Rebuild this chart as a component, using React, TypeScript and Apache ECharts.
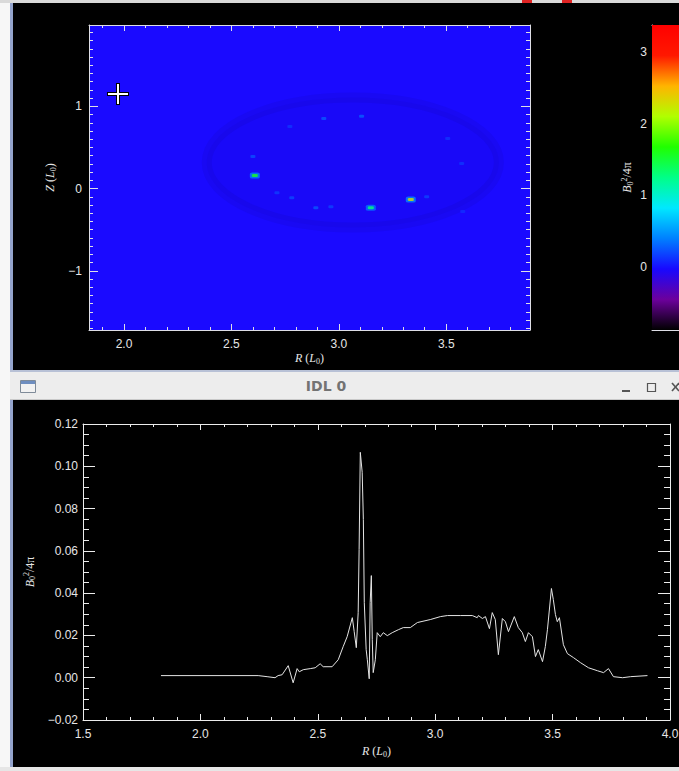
import React, { useEffect, useRef } from 'react';
import * as echarts from 'echarts';

// ---------- bottom panel: radial profile of B0^2/4pi ----------
const profileR = [1.832, 2.246, 2.284, 2.318, 2.331, 2.348, 2.374, 2.395, 2.412, 2.421,
  2.438, 2.468, 2.489, 2.510, 2.523, 2.561, 2.587, 2.608, 2.625, 2.647,
  2.655, 2.664, 2.672, 2.676, 2.681, 2.689, 2.694, 2.698, 2.706, 2.711,
  2.719, 2.723, 2.728, 2.732, 2.736, 2.745, 2.753, 2.766, 2.779, 2.796,
  2.817, 2.843, 2.864, 2.894, 2.924, 2.979, 3.022, 3.052, 3.107, 3.158,
  3.179, 3.184, 3.201, 3.214, 3.231, 3.243, 3.256, 3.269, 3.286, 3.299,
  3.312, 3.337, 3.354, 3.371, 3.384, 3.397, 3.414, 3.427, 3.439, 3.457,
  3.469, 3.478, 3.495, 3.503, 3.512, 3.520, 3.529, 3.546, 3.563, 3.589,
  3.619, 3.653, 3.691, 3.717, 3.738, 3.759, 3.798, 3.832, 3.904];
const profileV = [0.0010, 0.0010, 0.0005, 0.0000, 0.0010, 0.0014, 0.0057, -0.0024, 0.0043, 0.0028,
  0.0038, 0.0043, 0.0047, 0.0066, 0.0052, 0.0052, 0.0085, 0.0147, 0.0194, 0.0284,
  0.0218, 0.0142, 0.0308, 0.0607, 0.1066, 0.0972, 0.0749, 0.0355, 0.0133, 0.0085,
  -0.0005, 0.0355, 0.0483, 0.0180, 0.0024, 0.0085, 0.0213, 0.0194, 0.0213, 0.0199,
  0.0213, 0.0227, 0.0237, 0.0237, 0.0261, 0.0275, 0.0289, 0.0294, 0.0294, 0.0294,
  0.0284, 0.0294, 0.0280, 0.0289, 0.0232, 0.0308, 0.0275, 0.0109, 0.0280, 0.0265,
  0.0218, 0.0289, 0.0237, 0.0213, 0.0171, 0.0213, 0.0194, 0.0100, 0.0133, 0.0076,
  0.0147, 0.0227, 0.0422, 0.0370, 0.0299, 0.0265, 0.0284, 0.0156, 0.0114, 0.0095,
  0.0071, 0.0047, 0.0033, 0.0024, 0.0043, 0.0005, 0.0000, 0.0005, 0.0010];

const profileRRange = [1.5, 4.0];
const profileVRange = [-0.02, 0.12];

// ---------- top panel: map in (R, Z) ----------
const mapRRange = [1.837, 3.89];
const mapZRange = [-1.72, 1.99];
const mapBackgroundValue = 0;

// bright spots (core value and surrounding halo value)
const spotR = [2.609, 3.149, 3.335];
const spotZ = [0.159, -0.232, -0.134];
const spotCore = [1.6, 1.3, 2.3];
const spotHalo = [0.45, 0.4, 0.5];

// faint small dots
const dotR = [3.106, 2.930, 2.772, 2.600, 2.781, 2.712, 2.893, 2.963, 3.409, 3.507, 3.572, 3.577];
const dotZ = [0.88, 0.854, 0.756, 0.39, -0.11, -0.05, -0.232, -0.22, -0.10, 0.61, 0.305, -0.28];
const dotV = [0.3, 0.28, 0.15, 0.25, 0.22, 0.18, 0.28, 0.2, 0.2, 0.15, 0.15, 0.12];

// faint elliptical structure: centre R, Z and semi-axes
const ringCenter = [3.065, 0.317];
const ringRadii = [0.68, 0.79];

// colour bar
const cbRange = [-0.88, 3.38];
const colormap = ['#000000', '#6c009c', '#1808ff', '#0080ff', '#00e8ff', '#00ff88',
  '#20ff00', '#b0ff00', '#ffb400', '#ff1800', '#ff0000'];

const AX = '#dedee6';
const LBL = '#e6e6e6';
const SANS = 'Liberation Sans';
const SERIF = 'Liberation Serif';

const rich = {
  i: { fontFamily: SERIF, fontStyle: 'italic', fontSize: 12, color: LBL, lineHeight: 14 },
  n: { fontFamily: SERIF, fontSize: 12, color: LBL, lineHeight: 14 },
  s: { fontFamily: SERIF, fontSize: 8, color: LBL, lineHeight: 8, verticalAlign: 'bottom' },
  p: { fontFamily: SERIF, fontSize: 8, color: LBL, lineHeight: 8, verticalAlign: 'top' },
  t: { fontFamily: SERIF, fontStyle: 'italic', fontSize: 14, color: LBL, lineHeight: 16 },
  e: { fontFamily: SERIF, fontStyle: 'italic', fontSize: 9, color: LBL, lineHeight: 8, verticalAlign: 'bottom' },
};

const signed = (v: number, d: number) => {
  const s = Math.abs(v).toFixed(d);
  return v < -1e-9 ? '\u2212' + s : s;
};
const onStep = (v: number, step: number) => Math.abs(v / step - Math.round(v / step)) < 1e-6;

function frameAxis(extra: any) {
  return {
    type: 'value',
    axisLine: { show: true, onZero: false, lineStyle: { color: AX, width: 1 } },
    splitLine: { show: false },
    ...extra,
  };
}

export default function App() {
  const ref = useRef<HTMLDivElement>(null);
  useEffect(() => {
    const chart = echarts.init(ref.current!, null, { renderer: 'svg' });
    const noLabel = { show: false };
    const gradStops = colormap.map((c, i) => ({ offset: i / (colormap.length - 1), color: c }));

    const mapX = (pos: string, labels: boolean) => frameAxis({
      gridIndex: 0, position: pos, min: mapRRange[0], max: mapRRange[1], splitNumber: 4,
      axisTick: { show: true, inside: true, length: 6, lineStyle: { color: AX } },
      minorTick: { show: true, splitNumber: 5, length: 3, lineStyle: { color: AX } },
      axisLabel: labels ? {
        color: LBL, fontSize: 12, fontFamily: SANS, margin: 8, showMinLabel: false, showMaxLabel: false,
        formatter: (v: number) => (onStep(v, 0.5) ? signed(v, 1) : ''),
      } : noLabel,
      ...(labels ? {
        name: '{i|R}{n| (}{i|L}{s|0}{n|)}', nameLocation: 'middle', nameGap: 21,
        nameTextStyle: { color: LBL, rich },
      } : {}),
    });
    const mapY = (pos: string, labels: boolean) => frameAxis({
      gridIndex: 0, position: pos, min: mapZRange[0], max: mapZRange[1], splitNumber: 4,
      axisTick: { show: true, inside: true, length: 9, lineStyle: { color: AX } },
      minorTick: { show: true, splitNumber: 10, length: 4, lineStyle: { color: AX } },
      axisLabel: labels ? {
        color: LBL, fontSize: 12, fontFamily: SANS, margin: 7, showMinLabel: false, showMaxLabel: false,
        formatter: (v: number) => (onStep(v, 1) ? signed(v, 0) : ''),
      } : noLabel,
      ...(labels ? {
        name: '{i|Z}{n| (}{i|L}{s|0}{n|)}', nameLocation: 'middle', nameGap: 26,
        nameTextStyle: { color: LBL, rich },
      } : {}),
    });
    const profX = (pos: string, labels: boolean) => frameAxis({
      gridIndex: 1, position: pos, min: profileRRange[0], max: profileRRange[1], interval: 0.5,
      axisLine: { show: true, onZero: false, lineStyle: { color: '#ececec', width: 1 } },
      axisTick: { show: true, inside: true, length: 6, lineStyle: { color: '#ececec' } },
      minorTick: { show: true, splitNumber: 5, length: 3, lineStyle: { color: '#ececec' } },
      axisLabel: labels ? {
        color: LBL, fontSize: 12, fontFamily: SANS, margin: 8, formatter: (v: number) => signed(v, 1),
      } : noLabel,
      ...(labels ? {
        name: '{i|R}{n| (}{i|L}{s|0}{n|)}', nameLocation: 'middle', nameGap: 24,
        nameTextStyle: { color: LBL, rich },
      } : {}),
    });
    const profY = (pos: string, labels: boolean) => frameAxis({
      gridIndex: 1, position: pos, min: profileVRange[0], max: profileVRange[1], interval: 0.02,
      axisLine: { show: true, onZero: false, lineStyle: { color: '#ececec', width: 1 } },
      axisTick: { show: true, inside: true, length: 12, lineStyle: { color: '#ececec' } },
      minorTick: { show: true, splitNumber: 4, length: 6, lineStyle: { color: '#ececec' } },
      axisLabel: labels ? {
        color: LBL, fontSize: 12, fontFamily: SANS, margin: 5, formatter: (v: number) => signed(v, 2),
      } : noLabel,
      ...(labels ? {
        name: '{i|B}{s|0}{p|2}{n|/4\u03c0}', nameLocation: 'middle', nameGap: 44,
        nameTextStyle: { color: LBL, rich },
      } : {}),
    });

    const option: any = {
      animation: false,
      backgroundColor: '#000000',
      grid: [
        { left: 89, top: 25, width: 441, height: 305, show: true, backgroundColor: '#1a0aff', borderWidth: 0, outerBoundsMode: 'none' },
        { left: 83, top: 424, width: 587, height: 296, show: false, outerBoundsMode: 'none' },
        { left: 652, top: 25, width: 27, height: 305, show: false, outerBoundsMode: 'none' },
      ],
      xAxis: [
        mapX('bottom', true),
        mapX('top', false),
        profX('bottom', true),
        profX('top', false),
        frameAxis({ gridIndex: 2, position: 'bottom', min: 0, max: 1, axisTick: { show: false }, axisLabel: noLabel }),
        frameAxis({ gridIndex: 2, position: 'top', min: 0, max: 1, axisTick: { show: false }, axisLabel: noLabel }),
      ],
      yAxis: [
        mapY('left', true),
        mapY('right', false),
        profY('left', true),
        profY('right', false),
        frameAxis({
          gridIndex: 2, position: 'left', min: cbRange[0], max: cbRange[1], splitNumber: 4,
          axisTick: { show: true, inside: true, length: 5, lineStyle: { color: AX } },
          minorTick: { show: true, splitNumber: 10, length: 2, lineStyle: { color: AX } },
          axisLabel: {
            color: LBL, fontSize: 12, fontFamily: SANS, margin: 5, showMinLabel: false, showMaxLabel: false,
            formatter: (v: number) => (onStep(v, 1) ? signed(v, 0) : ''),
          },
          name: '{i|B}{s|0}{p|2}{n|/4\u03c0}', nameLocation: 'middle', nameGap: 18,
          nameTextStyle: { color: LBL, rich },
        }),
      ],
      visualMap: {
        show: false, type: 'continuous', min: cbRange[0], max: cbRange[1], dimension: 2,
        seriesIndex: [1, 2, 3], inRange: { color: colormap },
      },
      series: [
        {
          type: 'custom', xAxisIndex: 0, yAxisIndex: 0, clip: true,
          data: [[ringCenter[0], ringCenter[1], ringRadii[0], ringRadii[1], mapBackgroundValue]],
          renderItem: (_p: any, api: any) => {
            const c = api.coord([api.value(0), api.value(1)]);
            const s = api.size([api.value(2), api.value(3)]);
            return {
              type: 'ellipse',
              shape: { cx: c[0], cy: c[1], rx: s[0], ry: s[1] },
              style: { fill: 'rgba(10,0,110,0.05)', stroke: 'rgba(10,0,90,0.07)', lineWidth: 10 },
            };
          },
        },
        {
          type: 'scatter', xAxisIndex: 0, yAxisIndex: 0, symbol: 'roundRect', symbolSize: [10, 6],
          itemStyle: { opacity: 0.7 },
          data: spotR.map((r, i) => [r, spotZ[i], spotHalo[i]]),
        },
        {
          type: 'scatter', xAxisIndex: 0, yAxisIndex: 0, symbol: 'roundRect', symbolSize: [6, 3],
          data: spotR.map((r, i) => [r, spotZ[i], spotCore[i]]),
        },
        {
          type: 'scatter', xAxisIndex: 0, yAxisIndex: 0, symbol: 'roundRect', symbolSize: [5, 3],
          itemStyle: { opacity: 0.75 },
          data: dotR.map((r, i) => [r, dotZ[i], dotV[i]]),
        },
        {
          type: 'custom', xAxisIndex: 4, yAxisIndex: 4,
          data: [[cbRange[0], cbRange[1]]],
          renderItem: (_p: any, api: any) => {
            const lo = api.coord([0, api.value(0)]);
            const hi = api.coord([1, api.value(1)]);
            return {
              type: 'rect',
              shape: { x: lo[0], y: hi[1], width: hi[0] - lo[0], height: lo[1] - hi[1] },
              style: { fill: new echarts.graphic.LinearGradient(0, 1, 0, 0, gradStops) },
            };
          },
        },
        {
          type: 'line', xAxisIndex: 2, yAxisIndex: 2, showSymbol: false, symbol: 'none',
          lineStyle: { color: '#e4e4e4', width: 1 },
          data: profileR.map((r, i) => [r, profileV[i]]),
        },
      ],
      graphic: { elements: [
        { type: 'rect', shape: { x: 0, y: 0, width: 10, height: 771 }, style: { fill: '#f7f7f7' } },
        { type: 'rect', shape: { x: 10, y: 0, width: 3, height: 771 }, style: { fill: '#93a3cc' } },
        { type: 'rect', shape: { x: 0, y: 0, width: 679, height: 3 }, style: { fill: '#dadada' } },
        { type: 'rect', shape: { x: 522, y: 0, width: 10, height: 3 }, style: { fill: '#e02424' } },
        { type: 'rect', shape: { x: 562, y: 0, width: 10, height: 3 }, style: { fill: '#e02424' } },
        { type: 'rect', shape: { x: 10, y: 370, width: 669, height: 30 }, style: { fill: '#ededed' } },
        { type: 'rect', shape: { x: 10, y: 370, width: 669, height: 2 }, style: { fill: '#b8c1d6' } },
        { type: 'rect', shape: { x: 10, y: 399, width: 669, height: 1 }, style: { fill: '#c9c9c9' } },
        { type: 'rect', shape: { x: 10, y: 400, width: 3, height: 367 }, style: { fill: '#93a3cc' } },
        { type: 'rect', shape: { x: 0, y: 767, width: 679, height: 4 }, style: { fill: '#e6e6e6' } },
        { type: 'rect', shape: { x: 20.5, y: 380.5, width: 15, height: 12 }, style: { fill: '#f2f2f2', stroke: '#7f8b99', lineWidth: 1 } },
        { type: 'rect', shape: { x: 21, y: 381, width: 14, height: 3 }, style: { fill: '#6e8ec0' } },
        { type: 'text', x: 326, y: 386, style: { text: 'IDL 0', fill: '#737373', font: 'bold 14px "DejaVu Sans"', align: 'center', verticalAlign: 'middle' } },
        { type: 'line', shape: { x1: 622, y1: 391, x2: 630, y2: 391 }, style: { stroke: '#555555', lineWidth: 2 } },
        { type: 'rect', shape: { x: 647.5, y: 383.5, width: 8, height: 8 }, style: { fill: 'none', stroke: '#555555', lineWidth: 1.2 } },
        { type: 'line', shape: { x1: 672, y1: 383, x2: 679, y2: 391 }, style: { stroke: '#555555', lineWidth: 1.6 } },
        { type: 'line', shape: { x1: 672, y1: 391, x2: 679, y2: 383 }, style: { stroke: '#555555', lineWidth: 1.6 } },
        { type: 'text', x: 313, y: 14, style: { text: '{t|T}{e|e}', rich, align: 'center', verticalAlign: 'middle' } },
        { type: 'text', x: 375, y: 412, style: { text: '{t|T}{e|e}', rich, align: 'center', verticalAlign: 'middle' } },
        // mouse cursor over the map
        { type: 'line', z: 50, shape: { x1: 107, y1: 94, x2: 129, y2: 94 }, style: { stroke: '#000000', lineWidth: 4 } },
        { type: 'line', z: 50, shape: { x1: 118, y1: 83, x2: 118, y2: 105 }, style: { stroke: '#000000', lineWidth: 4 } },
        { type: 'line', z: 51, shape: { x1: 108, y1: 94, x2: 128, y2: 94 }, style: { stroke: '#ffffff', lineWidth: 2 } },
        { type: 'line', z: 51, shape: { x1: 118, y1: 84, x2: 118, y2: 104 }, style: { stroke: '#ffffff', lineWidth: 2 } },
      ] },
    };
    chart.setOption(option);
    return () => chart.dispose();
  }, []);
  return <div ref={ref} style={{ position: 'fixed', left: 0, top: 0, width: 679, height: 771 }} />;
}
